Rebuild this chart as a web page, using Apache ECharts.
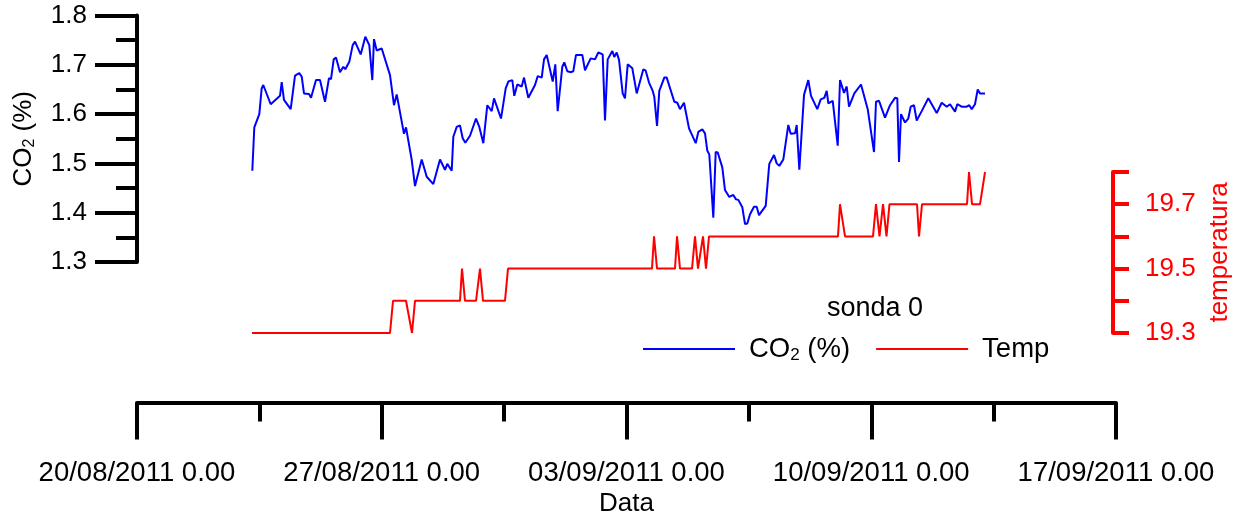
<!DOCTYPE html>
<html>
<head>
<meta charset="utf-8">
<script src="https://cdn.jsdelivr.net/npm/echarts@6/dist/echarts.min.js"></script>
<style>
html,body{margin:0;padding:0;background:#fff;}
#chart{width:1241px;height:517px;}
</style>
</head>
<body>
<div id="chart"></div>
<script>
// x values are days since 20/08/2011 0.00
const co2Days = [3.298,3.355,3.498,3.566,3.612,3.824,4.090,4.139,4.204,4.396,4.519,4.642,4.711,4.776,4.919,4.977,5.120,5.234,5.377,5.491,5.549,5.626,5.692,5.806,5.900,5.958,6.072,6.169,6.235,6.398,6.530,6.644,6.730,6.778,6.856,6.999,7.236,7.350,7.428,7.636,7.694,7.857,7.951,8.143,8.286,8.475,8.666,8.809,8.875,9.001,9.047,9.144,9.238,9.315,9.390,9.524,9.696,9.790,9.905,10.019,10.145,10.211,10.411,10.545,10.620,10.734,10.791,10.877,11.003,11.069,11.126,11.192,11.383,11.461,11.575,11.641,11.718,11.890,11.964,12.032,12.164,12.221,12.307,12.413,12.479,12.556,12.736,12.813,12.976,13.099,13.194,13.319,13.385,13.462,13.594,13.651,13.720,13.786,13.891,13.957,14.034,14.166,14.292,14.481,14.549,14.644,14.750,14.795,14.873,14.938,15.081,15.150,15.368,15.453,15.530,15.645,15.788,15.980,16.054,16.168,16.245,16.311,16.368,16.483,16.551,16.609,16.740,16.817,16.866,16.940,17.055,17.132,17.198,17.312,17.390,17.455,17.533,17.647,17.724,17.790,17.981,18.084,18.219,18.296,18.370,18.485,18.628,18.696,18.820,18.868,18.943,19.077,19.200,19.277,19.457,19.554,19.657,19.726,19.772,19.898,20.041,20.107,20.221,20.298,20.364,20.516,20.707,20.899,20.945,21.079,21.136,21.222,21.394,21.537,21.680,21.745,21.794,21.851,21.966,22.060,22.128,22.223,22.300,22.443,22.632,22.872,23.015,23.158,23.253,23.396,23.461,23.587,23.730,23.804,23.873,23.967,24.045,24.111,24.254];
const co2Values = [1.485,1.573,1.600,1.652,1.659,1.620,1.637,1.665,1.629,1.610,1.678,1.683,1.676,1.642,1.641,1.633,1.669,1.669,1.625,1.673,1.671,1.711,1.715,1.685,1.696,1.691,1.706,1.740,1.747,1.721,1.757,1.740,1.669,1.752,1.729,1.733,1.679,1.618,1.640,1.560,1.573,1.507,1.454,1.508,1.473,1.458,1.508,1.487,1.499,1.485,1.554,1.574,1.577,1.551,1.542,1.556,1.591,1.574,1.541,1.618,1.606,1.632,1.591,1.652,1.666,1.669,1.637,1.660,1.656,1.674,1.674,1.633,1.659,1.677,1.674,1.711,1.720,1.666,1.701,1.606,1.696,1.705,1.687,1.685,1.687,1.720,1.720,1.689,1.713,1.711,1.725,1.721,1.587,1.711,1.728,1.716,1.725,1.710,1.642,1.632,1.701,1.693,1.642,1.691,1.688,1.664,1.647,1.635,1.576,1.647,1.674,1.674,1.625,1.623,1.610,1.623,1.571,1.541,1.564,1.569,1.561,1.526,1.518,1.390,1.523,1.522,1.492,1.446,1.444,1.432,1.436,1.427,1.426,1.411,1.377,1.378,1.397,1.412,1.412,1.395,1.414,1.499,1.517,1.500,1.495,1.508,1.578,1.560,1.561,1.578,1.487,1.639,1.669,1.637,1.610,1.630,1.633,1.647,1.622,1.627,1.536,1.669,1.643,1.656,1.615,1.642,1.660,1.610,1.608,1.523,1.625,1.627,1.593,1.618,1.633,1.632,1.503,1.600,1.583,1.591,1.615,1.618,1.587,1.606,1.632,1.602,1.623,1.615,1.620,1.605,1.620,1.615,1.615,1.618,1.610,1.620,1.650,1.642,1.642];
const tempDays = [3.289,7.236,7.322,7.694,7.865,7.951,9.238,9.295,9.381,9.696,9.810,9.896,10.525,10.611,14.729,14.787,14.873,15.387,15.445,15.530,15.874,15.959,16.045,16.188,16.274,16.360,20.049,20.106,20.250,21.050,21.136,21.236,21.337,21.436,21.522,22.309,22.366,22.452,23.739,23.796,23.882,24.111,24.254];
const tempValues = [19.3,19.3,19.4,19.4,19.3,19.4,19.4,19.5,19.4,19.4,19.5,19.4,19.4,19.5,19.5,19.6,19.5,19.5,19.6,19.5,19.5,19.6,19.5,19.6,19.5,19.6,19.6,19.7,19.6,19.6,19.7,19.6,19.7,19.6,19.7,19.7,19.6,19.7,19.7,19.8,19.7,19.7,19.8];
const xTickDays = [0, 7, 14, 21, 28];
const co2Ticks = [1.3, 1.4, 1.5, 1.6, 1.7, 1.8];
const tempTicks = [19.3, 19.4, 19.5, 19.6, 19.7, 19.8];
const tempLabelled = ['19.3', '19.5', '19.7'];
const seriesNames = ['CO2 (%)', 'Temp'];
const baseDate = Date.UTC(2011, 7, 20);

const FONT = "'Liberation Sans', Arial, sans-serif";
const FS = 26;
const LFS = 27.5;

function pad(n){ return (n < 10 ? '0' : '') + n; }
function fmtDate(v){
  const d = new Date(baseDate + Math.round(v) * 86400000);
  return pad(d.getUTCDate()) + '/' + pad(d.getUTCMonth() + 1) + '/' + d.getUTCFullYear() + ' 0.00';
}

const co2Data = co2Days.map((d, i) => [d, co2Values[i]]);
const tempData = tempDays.map((d, i) => [d, tempValues[i]]);

const chart = echarts.init(document.getElementById('chart'), null, {renderer: 'canvas'});
const GL = 137, GR = 1241 - 1116;

chart.setOption({
  animation: false,
  backgroundColor: '#fff',
  textStyle: {fontFamily: FONT},
  grid: [
    {left: GL, right: GR, top: 15.5, height: 246.5},
    {left: GL, right: GR, top: 172, height: 161},
    {left: GL, right: GR, top: 400, height: 10}
  ],
  xAxis: [
    {gridIndex: 0, type: 'value', min: xTickDays[0], max: xTickDays[xTickDays.length-1], interval: 7, show: false},
    {gridIndex: 1, type: 'value', min: xTickDays[0], max: xTickDays[xTickDays.length-1], interval: 7, show: false},
    {gridIndex: 2, type: 'value', position: 'bottom',
     min: xTickDays[0], max: xTickDays[xTickDays.length-1], interval: 7,
     name: 'Data', nameLocation: 'middle', nameGap: 88,
     nameTextStyle: {fontSize: FS, color: '#000', fontFamily: FONT},
     axisLine: {show: true, onZero: false, lineStyle: {color: '#000', width: 4}},
     axisTick: {show: true, inside: false, length: 37, lineStyle: {color: '#000', width: 4}},
     minorTick: {show: true, splitNumber: 2, length: 19, lineStyle: {color: '#000', width: 4}},
     splitLine: {show: false}, minorSplitLine: {show: false},
     axisLabel: {show: true, margin: 57, fontSize: LFS, color: '#000', fontFamily: FONT, formatter: fmtDate}
    }
  ],
  yAxis: [
    {gridIndex: 0, type: 'value', position: 'left',
     min: co2Ticks[0], max: co2Ticks[co2Ticks.length-1], interval: 0.1,
     name: '{a|CO}{b|2}{a| (%)}', nameLocation: 'middle', nameGap: 99,
     nameTextStyle: {color: '#000', fontFamily: FONT, fontSize: FS,
       rich: {a: {fontSize: FS, fontFamily: FONT, color: '#000'},
              b: {fontSize: 16, fontFamily: FONT, color: '#000', padding: [12, 0, 0, 0]}}},
     axisLine: {show: true, onZero: false, lineStyle: {color: '#000', width: 4}},
     axisTick: {show: true, inside: false, length: 42, lineStyle: {color: '#000', width: 4}},
     minorTick: {show: true, splitNumber: 2, length: 21, lineStyle: {color: '#000', width: 4}},
     splitLine: {show: false}, minorSplitLine: {show: false},
     axisLabel: {margin: 50, fontSize: FS, color: '#000', fontFamily: FONT, formatter: v => v.toFixed(1)}
    },
    {gridIndex: 1, type: 'value', position: 'right', offset: -3,
     min: tempTicks[0], max: tempTicks[tempTicks.length-1], interval: 0.1,
     name: 'temperatura', nameLocation: 'middle', nameGap: 94,
     nameTextStyle: {color: '#FF0000', fontFamily: FONT, fontSize: FS},
     axisLine: {show: true, onZero: false, lineStyle: {color: '#FF0000', width: 4}},
     axisTick: {show: true, inside: false, length: 16, lineStyle: {color: '#FF0000', width: 4}},
     splitLine: {show: false},
     axisLabel: {margin: 32, fontSize: FS, color: '#FF0000', fontFamily: FONT,
       formatter: v => { const s = v.toFixed(1); return tempLabelled.indexOf(s) >= 0 ? s : ''; }}
    },
    {gridIndex: 2, type: 'value', show: false, min: 0, max: 1}
  ],
  legend: {
    left: 643, top: 335, padding: 0, itemWidth: 92, itemHeight: 2, itemGap: 26, icon: 'rect',
    data: seriesNames,
    formatter: n => n === seriesNames[0] ? '{p|}{a|CO}{b|2}{a| (%)}' : '{p|}{a|Temp}',
    textStyle: {color: '#000', fontFamily: FONT, fontSize: LFS,
      rich: {p: {width: 9}, a: {fontSize: LFS, fontFamily: FONT, color: '#000'},
             b: {fontSize: 17, fontFamily: FONT, color: '#000', padding: [12, 0, 0, 0]}}}
  },
  graphic: [
    {type: 'text', x: 875, y: 309, style: {text: 'sonda 0', font: '27px ' + FONT, fill: '#000', textAlign: 'center', textVerticalAlign: 'middle'}}
  ],
  series: [
    {name: seriesNames[0], type: 'line', xAxisIndex: 0, yAxisIndex: 0, data: co2Data,
     symbol: 'none', lineStyle: {color: '#0000FF', width: 2}, itemStyle: {color: '#0000FF'}},
    {name: seriesNames[1], type: 'line', xAxisIndex: 1, yAxisIndex: 1, data: tempData,
     symbol: 'none', lineStyle: {color: '#FF0000', width: 2}, itemStyle: {color: '#FF0000'}}
  ]
});
</script>
</body>
</html>
